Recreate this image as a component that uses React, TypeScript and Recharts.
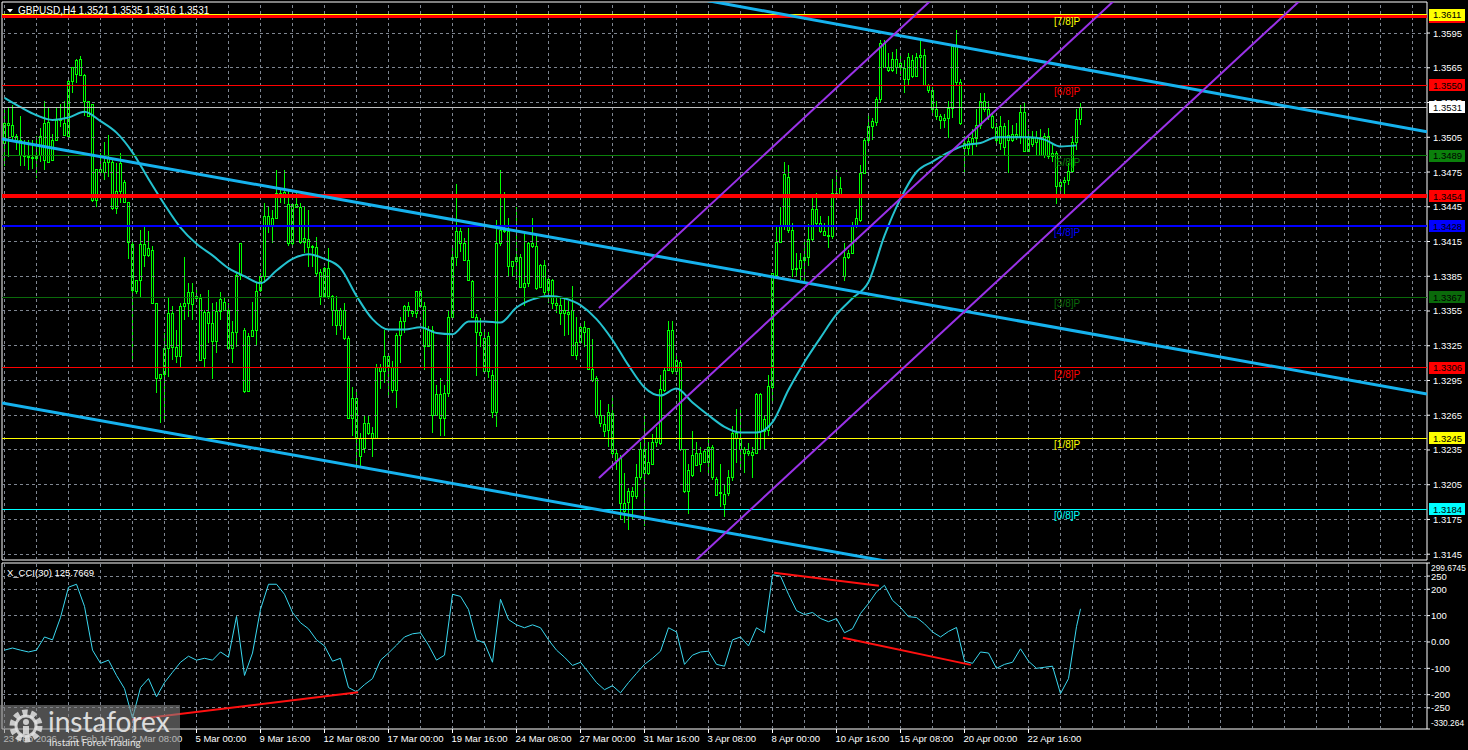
import React from 'react';
import { ComposedChart, Bar, Line, XAxis, YAxis, ReferenceLine, ReferenceArea, ReferenceDot } from 'recharts';

// GBPUSD H4, prices stored as price x 10000
const opens = [
  13500, 13517, 13516, 13506, 13503, 13490, 13489, 13488, 13487, 13490, 13485, 13518, 13485, 13503, 13520, 13517, 13506, 13554, 13560, 13573,
  13559, 13536, 13534, 13451, 13478, 13475, 13484, 13484, 13444, 13459, 13466, 13449, 13413, 13372, 13382, 13413, 13403, 13408, 13362, 13297,
  13301, 13323, 13353, 13324, 13316, 13359, 13362, 13371, 13366, 13366, 13314, 13354, 13345, 13329, 13355, 13363, 13356, 13323, 13337, 13386,
  13339, 13286, 13333, 13339, 13373, 13385, 13437, 13429, 13435, 13457, 13454, 13447, 13414, 13447, 13445, 13415, 13417, 13411, 13410, 13389,
  13368, 13392, 13368, 13356, 13343, 13356, 13332, 13263, 13280, 13245, 13237, 13258, 13250, 13245, 13307, 13303, 13316, 13307, 13287, 13334,
  13346, 13356, 13355, 13353, 13372, 13359, 13325, 13339, 13265, 13283, 13263, 13284, 13350, 13402, 13424, 13414, 13399, 13381, 13350, 13337,
  13332, 13303, 13300, 13268, 13414, 13425, 13424, 13394, 13398, 13402, 13376, 13379, 13414, 13411, 13376, 13395, 13373, 13382, 13362, 13360,
  13353, 13354, 13356, 13317, 13328, 13341, 13340, 13305, 13297, 13265, 13257, 13252, 13267, 13232, 13228, 13189, 13190, 13200, 13195, 13212,
  13236, 13215, 13223, 13242, 13241, 13287, 13304, 13339, 13303, 13311, 13236, 13200, 13213, 13232, 13223, 13234, 13225, 13238, 13210, 13199,
  13188, 13198, 13212, 13250, 13245, 13236, 13232, 13233, 13232, 13283, 13251, 13252, 13289, 13386, 13415, 13428, 13471, 13425, 13391, 13392,
  13399, 13402, 13417, 13443, 13431, 13424, 13421, 13420, 13457, 13455, 13402, 13402, 13405, 13428, 13434, 13474, 13503, 13515, 13518, 13538,
  13586, 13566, 13563, 13573, 13566, 13565, 13555, 13572, 13558, 13574, 13576, 13550, 13546, 13529, 13523, 13520, 13522, 13530, 13584, 13553,
  13500, 13496, 13499, 13504, 13516, 13536, 13529, 13523, 13514, 13500, 13515, 13503, 13503, 13508, 13506, 13527, 13493, 13504, 13501, 13505,
  13490, 13506, 13489, 13491, 13463, 13466, 13468, 13476, 13501, 13521,
];
const highs = [
  13530, 13531, 13533, 13508, 13523, 13503, 13503, 13503, 13506, 13513, 13536, 13531, 13508, 13531, 13534, 13536, 13557, 13566, 13573, 13575,
  13560, 13536, 13534, 13478, 13491, 13501, 13507, 13485, 13483, 13491, 13468, 13449, 13416, 13382, 13425, 13428, 13424, 13411, 13362, 13301,
  13336, 13367, 13359, 13339, 13362, 13402, 13379, 13379, 13373, 13370, 13356, 13373, 13362, 13363, 13371, 13366, 13362, 13346, 13388, 13414,
  13340, 13336, 13363, 13379, 13388, 13448, 13445, 13442, 13477, 13460, 13477, 13460, 13448, 13457, 13448, 13445, 13442, 13412, 13419, 13391,
  13393, 13409, 13369, 13368, 13358, 13362, 13333, 13289, 13286, 13250, 13264, 13264, 13255, 13309, 13309, 13339, 13316, 13312, 13336, 13350,
  13360, 13363, 13356, 13372, 13375, 13363, 13342, 13342, 13291, 13297, 13291, 13356, 13409, 13465, 13427, 13418, 13427, 13382, 13352, 13349,
  13339, 13337, 13304, 13434, 13477, 13458, 13435, 13398, 13445, 13404, 13422, 13415, 13435, 13421, 13396, 13399, 13385, 13383, 13366, 13367,
  13366, 13364, 13377, 13350, 13343, 13346, 13340, 13331, 13299, 13278, 13264, 13275, 13281, 13235, 13231, 13215, 13202, 13203, 13223, 13242,
  13264, 13242, 13249, 13255, 13300, 13307, 13346, 13346, 13316, 13313, 13236, 13223, 13251, 13242, 13238, 13236, 13244, 13239, 13212, 13223,
  13205, 13218, 13256, 13270, 13270, 13238, 13241, 13238, 13284, 13284, 13265, 13300, 13388, 13428, 13445, 13484, 13481, 13431, 13405, 13405,
  13417, 13430, 13453, 13457, 13437, 13431, 13437, 13469, 13479, 13471, 13414, 13408, 13432, 13443, 13481, 13504, 13523, 13522, 13540, 13589,
  13589, 13578, 13579, 13581, 13575, 13572, 13578, 13576, 13578, 13589, 13581, 13551, 13548, 13536, 13525, 13525, 13536, 13585, 13598, 13555,
  13506, 13506, 13512, 13529, 13543, 13543, 13536, 13526, 13517, 13523, 13517, 13520, 13516, 13517, 13533, 13535, 13512, 13510, 13510, 13512,
  13509, 13513, 13500, 13493, 13467, 13471, 13483, 13506, 13529, 13535,
];
const lows = [
  13480, 13488, 13503, 13494, 13480, 13480, 13477, 13478, 13470, 13484, 13477, 13484, 13485, 13503, 13514, 13506, 13506, 13543, 13552, 13559,
  13523, 13523, 13449, 13445, 13475, 13468, 13471, 13442, 13439, 13448, 13448, 13400, 13313, 13370, 13366, 13393, 13402, 13362, 13284, 13258,
  13260, 13298, 13313, 13310, 13306, 13347, 13350, 13347, 13365, 13313, 13307, 13327, 13296, 13319, 13347, 13356, 13322, 13310, 13324, 13382,
  13284, 13286, 13333, 13326, 13371, 13379, 13422, 13414, 13435, 13448, 13447, 13411, 13411, 13444, 13413, 13405, 13393, 13393, 13385, 13360,
  13368, 13365, 13342, 13334, 13339, 13330, 13263, 13247, 13222, 13221, 13232, 13248, 13229, 13245, 13288, 13293, 13281, 13284, 13271, 13310,
  13336, 13350, 13350, 13349, 13358, 13304, 13325, 13250, 13264, 13247, 13247, 13281, 13347, 13394, 13406, 13398, 13381, 13349, 13299, 13324,
  13301, 13297, 13263, 13255, 13411, 13422, 13385, 13385, 13382, 13375, 13359, 13376, 13409, 13373, 13376, 13369, 13362, 13357, 13353, 13343,
  13333, 13334, 13317, 13313, 13327, 13324, 13305, 13294, 13263, 13255, 13246, 13238, 13231, 13218, 13175, 13172, 13166, 13175, 13193, 13209,
  13169, 13213, 13222, 13238, 13239, 13285, 13303, 13301, 13300, 13234, 13198, 13180, 13212, 13221, 13216, 13224, 13215, 13209, 13195, 13186,
  13177, 13195, 13208, 13224, 13218, 13215, 13230, 13211, 13232, 13235, 13235, 13247, 13276, 13385, 13414, 13425, 13422, 13384, 13384, 13382,
  13381, 13394, 13415, 13428, 13422, 13420, 13409, 13417, 13453, 13454, 13381, 13400, 13404, 13427, 13432, 13473, 13500, 13503, 13515, 13535,
  13565, 13561, 13561, 13560, 13558, 13543, 13549, 13556, 13558, 13566, 13549, 13543, 13525, 13520, 13512, 13513, 13504, 13522, 13550, 13516,
  13474, 13490, 13489, 13497, 13512, 13527, 13520, 13512, 13499, 13494, 13490, 13474, 13501, 13503, 13499, 13493, 13493, 13497, 13489, 13489,
  13487, 13486, 13484, 13447, 13458, 13453, 13464, 13474, 13494, 13516,
];
const closes = [
  13517, 13516, 13506, 13503, 13490, 13489, 13488, 13487, 13490, 13506, 13517, 13484, 13503, 13520, 13521, 13507, 13554, 13566, 13572, 13559,
  13536, 13523, 13451, 13478, 13475, 13484, 13487, 13444, 13459, 13483, 13449, 13415, 13373, 13382, 13413, 13403, 13409, 13362, 13297, 13301,
  13323, 13353, 13324, 13316, 13359, 13362, 13371, 13361, 13368, 13313, 13354, 13345, 13329, 13355, 13365, 13356, 13323, 13337, 13386, 13414,
  13286, 13333, 13339, 13372, 13385, 13437, 13429, 13435, 13457, 13454, 13458, 13414, 13447, 13445, 13415, 13418, 13410, 13410, 13388, 13368,
  13392, 13368, 13356, 13343, 13356, 13332, 13263, 13280, 13245, 13230, 13258, 13250, 13245, 13307, 13303, 13316, 13307, 13287, 13334, 13346,
  13359, 13359, 13353, 13372, 13359, 13325, 13339, 13265, 13283, 13263, 13284, 13350, 13402, 13424, 13414, 13399, 13382, 13350, 13337, 13334,
  13303, 13333, 13268, 13414, 13425, 13424, 13394, 13398, 13402, 13376, 13379, 13414, 13411, 13375, 13395, 13371, 13383, 13362, 13360, 13353,
  13356, 13352, 13317, 13328, 13341, 13337, 13305, 13295, 13265, 13258, 13251, 13268, 13232, 13226, 13189, 13182, 13200, 13195, 13212, 13236,
  13215, 13225, 13242, 13245, 13288, 13304, 13339, 13303, 13313, 13236, 13200, 13218, 13231, 13222, 13232, 13225, 13238, 13212, 13196, 13198,
  13197, 13212, 13250, 13245, 13236, 13232, 13234, 13231, 13283, 13251, 13262, 13290, 13388, 13415, 13428, 13473, 13425, 13391, 13392, 13399,
  13402, 13417, 13443, 13431, 13424, 13421, 13420, 13457, 13455, 13461, 13385, 13405, 13428, 13435, 13474, 13503, 13515, 13519, 13538, 13586,
  13566, 13563, 13573, 13566, 13569, 13555, 13574, 13558, 13574, 13576, 13550, 13546, 13529, 13523, 13520, 13522, 13530, 13584, 13553, 13517,
  13496, 13502, 13504, 13516, 13536, 13529, 13523, 13514, 13503, 13515, 13497, 13507, 13508, 13506, 13527, 13493, 13504, 13499, 13505, 13490,
  13506, 13489, 13491, 13463, 13466, 13468, 13476, 13501, 13521, 13531,
];

// moving average, read every 4th bar (price x 10000)
const maEvery4 = [
  13539, 13531, 13524, 13520, 13522, 13527, 13519, 13509, 13492, 13469,
  13447, 13427, 13413, 13403, 13392, 13385, 13379, 13390, 13400, 13404,
  13400, 13392, 13368, 13348, 13339, 13339, 13341, 13336, 13335, 13346,
  13346, 13345, 13358, 13365, 13368, 13366, 13360, 13348, 13330, 13308,
  13289, 13282, 13288, 13276, 13265, 13255, 13250, 13250, 13259, 13287,
  13311, 13332, 13352, 13366, 13380, 13420, 13452, 13475, 13484, 13492,
  13498, 13500, 13505, 13505, 13505, 13503, 13497, 13498,
];

// X_CCI(30), read every 2nd bar
const cciEvery2 = [
  -31, -23, -31, -38, -31, 19, 8, 93, 208, 219,
  135, -31, -81, -69, -127, -177, -289, -173, -139, -208,
  -154, -115, -77, -54, -69, -62, -69, -38, -58, 97,
  -127, -42, 124, 219, 219, 181, 112, 73, 50, 8,
  -15, -73, -62, -173, -189, -162, -139, -69, -42, -12,
  19, 31, 35, -12, -69, -50, 181, 173, 123, 8,
  -4, -77, 162, 85, 65, 54, 65, 54, 8, -31,
  -58, -89, -77, -115, -154, -181, -166, -193, -154, -119,
  -85, -62, -35, 54, 38, -85, -50, -38, -35, -85,
  -92, 8, 19, -15, 54, 35, 255, 250, 181, 119,
  104, 112, 89, 77, 89, 35, 50, 108, 146, 190,
  215, 158, 131, 96, 93, 69, 38, 19, 40, 55,
  -73, -81, -38, -42, -100, -85, -77, -26, -73, -100,
  -96, -92, -196, -139, 58,
];
const cciLast = 125.7669;

const dateLabels = [
  '23 Feb 2026', '25 Feb 16:00', '2 Mar 08:00', '5 Mar 00:00', '9 Mar 16:00', '12 Mar 08:00',
  '17 Mar 00:00', '19 Mar 16:00', '24 Mar 08:00', '27 Mar 00:00', '31 Mar 16:00', '3 Apr 08:00',
  '8 Apr 00:00', '10 Apr 16:00', '15 Apr 08:00', '20 Apr 00:00', '22 Apr 16:00',
];
const barsPerLabel = 16;

const priceTicks = [1.3595, 1.3565, 1.3535, 1.3505, 1.3475, 1.3445, 1.3415, 1.3385, 1.3355, 1.3325, 1.3295, 1.3265, 1.3235, 1.3205, 1.3175, 1.3145];
const cciGrid = [250, 200, 100, 0, -100, -200, -250];

const murreyPrices = [1.3611, 1.355, 1.3489, 1.3428, 1.3367, 1.3306, 1.3245, 1.3184];
const murreyNames = ['[7/8]P', '[6/8]P', '[5/8]P', '[4/8]P', '[3/8]P', '[2/8]P', '[1/8]P', '[0/8]P'];
const resistancePrice = 1.3609;
const supportPrice = 1.3454;
const lastPrice = 1.3531;

// hand drawn lines: [bar, price] endpoints
const blueChannel = [
  [[-0.625, 1.35035], [355.625, 1.32834]],
  [[-0.625, 1.32756], [240, 1.31269]],
  [[160, 1.36329], [355.625, 1.35097]],
];
const purpleChannel = [
  [[148.6, 1.33576], [240, 1.36501]],
  [[148.6, 1.32108], [290, 1.36633]],
  [[165, 1.31147], [335, 1.36587]],
];
// [bar, cci] endpoints
const cciDivergences = [
  [[31.9, -295], [88.4, -191]],
  [[192.4, 263], [218.6, 213]],
  [[209.6, 16], [241.6, -87]],
];

const FONT = '"Liberation Sans", Arial, sans-serif';
const GRID = '#7f8691';
const CANDLE = '#00ff00';
const murreyColors = ['#ffff00', '#ff0000', '#0b800b', '#0000ff', '#0a6a0a', '#ff0000', '#ffff00', '#00ffff'];
const murreyWidths = [1, 1, 1, 2, 1, 1, 1, 1];

const xDomain: [number, number] = [-0.625, 355.625];
const priceDomain: [number, number] = [1.314, 1.36218];
const cciDomain: [number, number] = [-330.264, 299.6745];
const gridBars = Array.from({ length: 45 }, (_, k) => k * 8);
const labelBars = dateLabels.map((_, k) => k * barsPerLabel);
const murreyLabelBar = 262.4;

const rows = opens.map((o, i) => ({
  i,
  o: o / 1e4,
  h: highs[i] / 1e4,
  l: lows[i] / 1e4,
  c: closes[i] / 1e4,
  range: [lows[i] / 1e4, highs[i] / 1e4],
  ma: i % 4 === 0 ? maEvery4[i / 4] / 1e4 : null,
}));

const cciRows = opens.map((_, i) => ({
  i,
  cci: i % 2 === 0 ? cciEvery2[i / 2] : i === opens.length - 1 ? cciLast : null,
}));

const priceBoxes = [
  { price: resistancePrice, bg: '#ff0000' },
  ...murreyPrices.slice(0, 2).map((p, k) => ({ price: p, bg: murreyColors[k] })),
  { price: lastPrice, bg: '#ffffff' },
  { price: murreyPrices[2], bg: murreyColors[2] },
  { price: supportPrice, bg: '#ff0000' },
  ...murreyPrices.slice(3).map((p, k) => ({ price: p, bg: murreyColors[k + 3] })),
];

const Candle = (props: any) => {
  const { x, y, width, height, payload } = props;
  if (x == null || !payload) return null;
  const yTop = Math.min(y, y + height);
  const hh = Math.abs(height);
  const cx = Math.round(x + width / 2 - 0.5) + 0.5;
  const span = payload.h - payload.l;
  const k = span > 0 ? hh / span : 0;
  const top = Math.round(yTop + (payload.h - Math.max(payload.o, payload.c)) * k) + 0.5;
  const bot = Math.round(yTop + (payload.h - Math.min(payload.o, payload.c)) * k) + 0.5;
  return (
    <g shapeRendering="crispEdges">
      <line x1={cx} x2={cx} y1={yTop} y2={yTop + hh} stroke={CANDLE} strokeWidth={1} />
      <rect x={cx - 1} y={top} width={2} height={Math.max(bot - top, 1)} fill="#000" stroke={CANDLE} strokeWidth={1} />
    </g>
  );
};

const PriceTick = (props: any) => {
  const { x, y, payload } = props;
  const v = payload.value;
  const box = priceBoxes.find((b) => b.price === v);
  const label = v.toFixed(4);
  if (box) {
    return (
      <g>
        <rect x={x + 2} y={Math.round(y) - 6} width={36} height={12} fill={box.bg} />
        <text x={x + 6} y={y + 3.5} fill="#000" fontSize={9.5} fontFamily={FONT}>{label}</text>
      </g>
    );
  }
  return (
    <g>
      <line x1={x} x2={x + 3} y1={y} y2={y} stroke="#fff" />
      <text x={x + 6} y={y + 3.5} fill="#fff" fontSize={9.5} fontFamily={FONT}>{label}</text>
    </g>
  );
};

const CciTick = (props: any) => {
  const { x, y, payload } = props;
  const v = payload.value;
  const label = v === 0 ? '0.00' : String(v);
  const isEdge = v === cciDomain[1] || v === cciDomain[0];
  const dy = v === cciDomain[1] ? 8 : v === cciDomain[0] ? -3 : 3.5;
  return (
    <g>
      <line x1={x} x2={x + 3} y1={y} y2={y} stroke="#fff" />
      <text x={x + 4} y={y + dy} fill="#fff" fontSize={isEdge ? 8.4 : 9.5} fontFamily={FONT}>{label}</text>
    </g>
  );
};

const DateTick = (props: any) => {
  const { x, y, payload } = props;
  const label = dateLabels[Math.round(payload.value / barsPerLabel)];
  return (
    <g>
      <line x1={x} x2={x} y1={y} y2={y + 4} stroke="#fff" />
      <text x={x - 1} y={y + 13} fill="#fff" fontSize={9.5} fontFamily={FONT}>{label}</text>
    </g>
  );
};

const App = () => {
  return (
    <div style={{ position: 'fixed', left: 0, top: 0, width: 1468, height: 750, background: '#000', overflow: 'hidden', fontFamily: FONT }}>
      <div style={{ position: 'absolute', left: 0, top: 0 }}>
        <ComposedChart width={1468} height={562} data={rows} margin={{ top: 2, right: 0, left: 2, bottom: 2 }}>
          <XAxis dataKey="i" type="number" domain={xDomain} allowDataOverflow hide />
          <YAxis
            orientation="right"
            type="number"
            domain={priceDomain}
            allowDataOverflow
            width={41}
            ticks={[...priceTicks, ...priceBoxes.map((b) => b.price)]}
            interval={0}
            tick={(p: any) => <PriceTick {...p} />}
            tickSize={0}
            tickMargin={0}
            tickLine={false}
            axisLine={false}
          />
          {gridBars.map((b) => (
            <ReferenceLine key={'gv' + b} x={b} stroke={GRID} strokeDasharray="3 3" shapeRendering="crispEdges" />
          ))}
          {priceTicks.map((p) => (
            <ReferenceLine key={'gh' + p} y={p} stroke={GRID} strokeDasharray="3 3" shapeRendering="crispEdges" />
          ))}
          <Bar dataKey="range" barSize={3} shape={(p: any) => <Candle {...p} />} isAnimationActive={false} />
          <Line dataKey="ma" type="monotone" stroke="#24c2cf" strokeWidth={2} dot={false} connectNulls isAnimationActive={false} />
          <ReferenceLine y={lastPrice} stroke="#c0c0c0" shapeRendering="crispEdges" />
          {murreyPrices.map((p, k) => (
            <ReferenceLine key={'m' + k} y={p} stroke={murreyColors[k]} strokeWidth={murreyWidths[k]} shapeRendering="crispEdges" />
          ))}
          <ReferenceLine y={resistancePrice} stroke="#ff0000" strokeWidth={3} shapeRendering="crispEdges" />
          <ReferenceLine y={supportPrice} stroke="#ff0000" strokeWidth={4} shapeRendering="crispEdges" />
          {blueChannel.map((s, k) => (
            <ReferenceLine
              key={'b' + k}
              segment={[{ x: s[0][0], y: s[0][1] }, { x: s[1][0], y: s[1][1] }]}
              stroke="#16b2ee"
              strokeWidth={3}
              ifOverflow="hidden"
            />
          ))}
          {purpleChannel.map((s, k) => (
            <ReferenceLine
              key={'p' + k}
              segment={[{ x: s[0][0], y: s[0][1] }, { x: s[1][0], y: s[1][1] }]}
              stroke="#9a32e8"
              strokeWidth={2}
              ifOverflow="hidden"
            />
          ))}
          {murreyPrices.map((p, k) => (
            <ReferenceDot
              key={'ml' + k}
              x={murreyLabelBar}
              y={p}
              r={0}
              ifOverflow="visible"
              shape={(s: any) => (
                <text x={s.cx} y={s.cy + 10} fill={murreyColors[k]} fontSize={10} fontFamily={FONT}>{murreyNames[k]}</text>
              )}
            />
          ))}
          <ReferenceArea x1={xDomain[0]} x2={xDomain[1]} y1={priceDomain[0]} y2={priceDomain[1]} fill="none" stroke="#ffffff" ifOverflow="visible" />
        </ComposedChart>
      </div>
      <div style={{ position: 'absolute', left: 0, top: 562 }}>
        <ComposedChart width={1468} height={188} data={cciRows} margin={{ top: 1, right: 0, left: 2, bottom: 0 }}>
          <XAxis
            dataKey="i"
            type="number"
            domain={xDomain}
            allowDataOverflow
            height={21}
            ticks={labelBars}
            interval={0}
            tick={(p: any) => <DateTick {...p} />}
            tickSize={0}
            tickMargin={0}
            tickLine={false}
            axisLine={false}
          />
          <YAxis
            orientation="right"
            type="number"
            domain={cciDomain}
            allowDataOverflow
            width={41}
            ticks={[cciDomain[1], ...cciGrid, cciDomain[0]]}
            interval={0}
            tick={(p: any) => <CciTick {...p} />}
            tickSize={0}
            tickMargin={0}
            tickLine={false}
            axisLine={false}
          />
          {gridBars.map((b) => (
            <ReferenceLine key={'cv' + b} x={b} stroke={GRID} strokeDasharray="3 3" shapeRendering="crispEdges" />
          ))}
          {cciGrid.map((v) => (
            <ReferenceLine key={'ch' + v} y={v} stroke={GRID} strokeDasharray="3 3" shapeRendering="crispEdges" />
          ))}
          <Line dataKey="cci" type="linear" stroke="#3ad8f0" strokeWidth={1} dot={false} connectNulls isAnimationActive={false} />
          {cciDivergences.map((s, k) => (
            <ReferenceLine
              key={'d' + k}
              segment={[{ x: s[0][0], y: s[0][1] }, { x: s[1][0], y: s[1][1] }]}
              stroke="#ff1010"
              strokeWidth={2}
              ifOverflow="hidden"
            />
          ))}
          <ReferenceArea x1={xDomain[0]} x2={xDomain[1]} y1={cciDomain[0]} y2={cciDomain[1]} fill="none" stroke="#ffffff" ifOverflow="visible" />
        </ComposedChart>
      </div>
      <svg width={1468} height={750} style={{ position: 'absolute', left: 0, top: 0, pointerEvents: 'none' }}>
        <polygon points="7,9 13,9 10,12.5" fill="#fff" />
        <text x={18} y={14} fill="#fff" fontSize={10} fontFamily={FONT}>GBPUSD,H4 1.3521 1.3535 1.3516 1.3531</text>
        <text x={7} y={576} fill="#fff" fontSize={9.5} fontFamily={FONT}>X_CCI(30) 125.7669</text>
        <g>
          <rect x={0} y={705} width={180} height={45} fill="rgba(130,130,130,0.6)" />
          <circle cx={26} cy={726} r={13} fill="none" stroke="#e2e2e2" strokeWidth={7} strokeDasharray="5 3.2" opacity={0.85} />
          <circle cx={26} cy={726} r={10} fill="none" stroke="#e2e2e2" strokeWidth={3} opacity={0.85} />
          <circle cx={26} cy={722} r={3} fill="#e2e2e2" opacity={0.85} />
          <rect x={23} y={726} width={6} height={8} fill="#e2e2e2" opacity={0.85} />
          <text x={48} y={732} fill="#ececec" fontSize={28} fontFamily="Lato, 'Open Sans', sans-serif" opacity={0.9}>instaforex</text>
          <text x={49} y={746} fill="#e6e6e6" fontSize={10} fontFamily="Lato, 'Open Sans', sans-serif">Instant Forex Trading</text>
        </g>
      </svg>
    </div>
  );
};

export default App;
